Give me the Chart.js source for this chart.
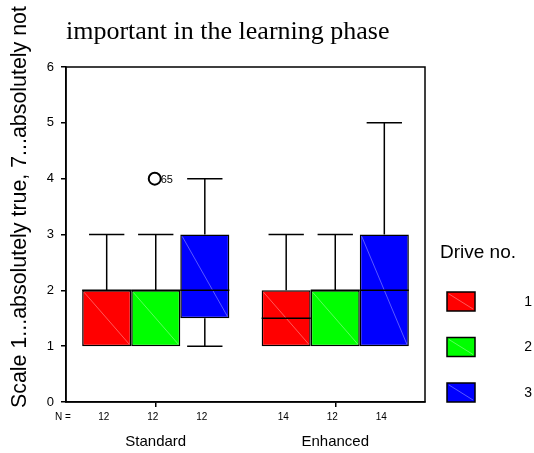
<!DOCTYPE html>
<html>
<head>
<meta charset="utf-8">
<script src="https://cdn.jsdelivr.net/npm/chart.js@4.4.0/dist/chart.umd.min.js"></script>
<style>body{margin:0;background:#fff}</style>
</head>
<body>
<canvas id="myChart" width="534" height="453"></canvas>
<script>
var groups = ["Standard", "Enhanced"];
var drives = ["1", "2", "3"];
var colors = ["#ff0000", "#00ff00", "#0000ff"];

// one array per drive, one value per group (Standard, Enhanced)
var lowWhisker = [[1, 1], [1, 1], [1, 1]];
var q1 = [[1, 1], [1, 1], [1.5, 1]];
var median = [[2, 1.5], [2, 2], [2, 2]];
var q3 = [[2, 2], [2, 2], [3, 3]];
var highWhisker = [[3, 3], [3, 3], [4, 5]];
var counts = [[12, 14], [12, 12], [12, 14]];

// outliers
var outlierDrive = [1];
var outlierGroup = [0];
var outlierValue = [4];
var outlierCase = ["65"];

var titleText = "important in the learning phase";
var yTitle = "Scale 1...absolutely true, 7...absolutely not";
var legendTitle = "Drive no.";

Chart.defaults.font.family = "'Liberation Sans', Arial, sans-serif";
Chart.defaults.color = "#000";

function line(ctx, x1, y1, x2, y2) {
    ctx.beginPath();
    ctx.moveTo(x1, y1);
    ctx.lineTo(x2, y2);
    ctx.stroke();
}

var boxParts = {
    id: "boxParts",
    afterDatasetsDraw: function (chart) {
        var ctx = chart.ctx;
        var y = chart.scales.y;
        ctx.save();
        chart.data.datasets.forEach(function (ds, i) {
            chart.getDatasetMeta(i).data.forEach(function (bar, j) {
                var half = bar.width / 2;
                var left = bar.x - half, right = bar.x + half;
                var top = y.getPixelForValue(q3[i][j]);
                var bot = y.getPixelForValue(q1[i][j]);
                // faint diagonal inside the box
                ctx.strokeStyle = "rgba(255,255,255,0.35)";
                ctx.lineWidth = 1;
                line(ctx, left + 2, top + 2, right - 2, bot - 2);
                ctx.strokeStyle = "#000";
                ctx.lineWidth = 1.5;
                var m = y.getPixelForValue(median[i][j]);
                line(ctx, left, m, right, m);
                var cap = bar.width * 0.36;
                if (highWhisker[i][j] > q3[i][j]) {
                    var h = y.getPixelForValue(highWhisker[i][j]);
                    line(ctx, bar.x, top, bar.x, h);
                    line(ctx, bar.x - cap, h, bar.x + cap, h);
                }
                if (lowWhisker[i][j] < q1[i][j]) {
                    var l = y.getPixelForValue(lowWhisker[i][j]);
                    line(ctx, bar.x, bot, bar.x, l);
                    line(ctx, bar.x - cap, l, bar.x + cap, l);
                }
            });
        });
        // outliers
        outlierValue.forEach(function (v, k) {
            var bar = chart.getDatasetMeta(outlierDrive[k]).data[outlierGroup[k]];
            var py = y.getPixelForValue(v);
            ctx.strokeStyle = "#000";
            ctx.lineWidth = 2;
            ctx.beginPath();
            ctx.arc(bar.x - 1, py, 6, 0, Math.PI * 2);
            ctx.stroke();
            ctx.fillStyle = "#000";
            ctx.font = "11px 'Liberation Sans', Arial";
            ctx.textAlign = "left";
            ctx.textBaseline = "middle";
            ctx.fillText(outlierCase[k], bar.x + 5, py + 1);
        });
        ctx.restore();
    },
    afterDraw: function (chart) {
        var ctx = chart.ctx;
        var a = chart.chartArea;
        ctx.save();
        // frame round the plot
        ctx.strokeStyle = "#000";
        ctx.lineWidth = 1.5;
        ctx.strokeRect(a.left, a.top, a.right - a.left, a.bottom - a.top);

        // title
        ctx.fillStyle = "#000";
        ctx.font = "26px 'Liberation Serif', 'Times New Roman', serif";
        ctx.textAlign = "left";
        ctx.textBaseline = "alphabetic";
        ctx.fillText(titleText, 66, 39);

        // y axis title, rotated
        ctx.font = "20px 'Liberation Sans', Arial";
        var w = ctx.measureText(yTitle).width;
        var size = 20 * 403 / w;
        ctx.font = size.toFixed(1) + "px 'Liberation Sans', Arial";
        ctx.translate(26, 408);
        ctx.rotate(-Math.PI / 2);
        ctx.fillText(yTitle, 0, 0);
        ctx.setTransform(1, 0, 0, 1, 0, 0);

        // N row
        ctx.font = "10px 'Liberation Sans', Arial";
        ctx.textBaseline = "middle";
        ctx.textAlign = "left";
        ctx.fillText("N =", 55, 417);
        ctx.textAlign = "center";
        chart.data.datasets.forEach(function (ds, i) {
            chart.getDatasetMeta(i).data.forEach(function (bar, j) {
                ctx.fillText(String(counts[i][j]), bar.x - 3, 417);
            });
        });

        // legend
        ctx.font = "19px 'Liberation Sans', Arial";
        ctx.textAlign = "left";
        ctx.textBaseline = "alphabetic";
        ctx.fillText(legendTitle, 440, 258);
        ctx.font = "14px 'Liberation Sans', Arial";
        drives.forEach(function (d, i) {
            var sy = 292 + i * 45.5;
            ctx.fillStyle = colors[i];
            ctx.fillRect(447, sy, 28, 19);
            ctx.strokeStyle = "rgba(255,255,255,0.35)";
            ctx.lineWidth = 1;
            line(ctx, 449, sy + 2, 473, sy + 17);
            ctx.strokeStyle = "#000";
            ctx.lineWidth = 1.5;
            ctx.strokeRect(447, sy, 28, 19);
            ctx.fillStyle = "#000";
            ctx.textAlign = "right";
            ctx.textBaseline = "middle";
            ctx.fillText(d, 532, sy + 10);
        });
        ctx.restore();
    }
};

var datasets = drives.map(function (d, i) {
    return {
        label: d,
        data: groups.map(function (g, j) { return [q1[i][j], q3[i][j]]; }),
        backgroundColor: colors[i],
        borderColor: "#000",
        borderWidth: 1.5,
        borderSkipped: false,
        categoryPercentage: 0.82,
        barPercentage: 1
    };
});

var ctx = document.getElementById("myChart").getContext("2d");
var myChart = new Chart(ctx, {
    type: "bar",
    data: { labels: groups, datasets: datasets },
    plugins: [boxParts],
    options: {
        responsive: false,
        animation: false,
        layout: { padding: { top: 67, right: 109, left: 0, bottom: 0 } },
        plugins: { legend: { display: false }, tooltip: { enabled: false } },
        scales: {
            x: {
                afterFit: function (s) { s.height = 51; },
                grid: { offset: false, drawOnChartArea: false, tickLength: 5, color: "#000", lineWidth: 1.5 },
                border: { display: true, color: "#000", width: 1.5 },
                ticks: { font: { size: 15 }, padding: 26, color: "#000" }
            },
            y: {
                min: 0,
                max: 6,
                afterFit: function (s) { s.width = 66; },
                grid: { drawOnChartArea: false, tickLength: 5, color: "#000", lineWidth: 1.5 },
                border: { display: true, color: "#000", width: 1.5 },
                ticks: { stepSize: 1, font: { size: 13 }, padding: 7, color: "#000" }
            }
        }
    }
});
</script>
</body>
</html>
